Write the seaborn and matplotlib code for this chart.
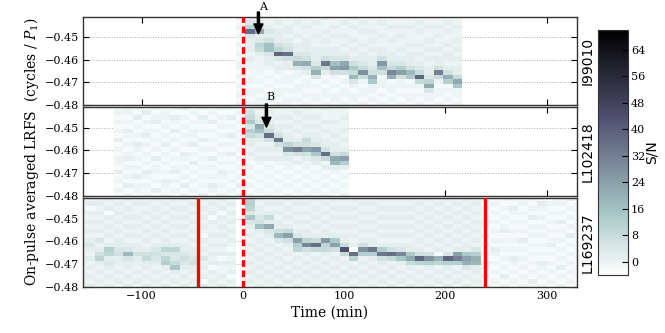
import numpy as np
import matplotlib
matplotlib.use("Agg")
import matplotlib.pyplot as plt
import seaborn as sns

# ---------------- data ----------------
# time bins (min): left edge of first bin and bin width; frequency rows (cycles/P1)
BIN_START = -164.9
BIN_WIDTH = 9.3
N_BINS = 54
FREQ_TOP = -0.4405
FREQ_STEP = 0.002
N_ROWS = 20

# S/N maps: one string per time bin, rows from low (bottom) to high (top) frequency.
# each character = (S/N + 4) / 2 as a base-36 digit; '.' = no data
CODE = "0123456789ABCDEFGHIJKLMNOPQRSTUVWXYZ"

obs_names = ["I99010", "L102418", "L169237"]

I99010_first_bin = -1
I99010_cols = [
    "21212121221212121212", "2122122122323334K743", "2212121222236743D432",
    "122121212334AA534322", "21221212324L75333232", "22121221335K54323322",
    "121221224C6433232232", "212122135D5433322322", "1221214C843332232232",
    "212212136J5332323223", "12212125EA4332232322", "21221215FD4323232232",
    "122124B6953232322323", "2122126G643323223232", "121229C5433232323222",
    "21212215AF5332232232", "121221CH643322322322", "2121225E843232232322",
    "1221219B533323222322", "212126L6432323223232", "1224D743323232322322",
    "2122126I533232232322", "121218C5323323223232", "21229D63323232322322",
]

L102418_first_bin = -14
L102418_cols = [
    "12121312212131212121", "21312121321212312122", "12213121212312121312",
    "21212312121213212131", "13121221312121213212", "21231212121312121221",
    "12121321212121312312", "21312121231212121213", "12121213121312212121",
    "31212121212131212312", "12312121312121213121", "21212312121212121212",
    "12121212131213121312", "21312121212121212121",
    "21212121232336849653", "12121212323235AD4323", "2121212132325K643232",
    "121212123235J5332322", "2121212234G733232322", "1212121325I532323232",
    "2121212235E563232322", "1212121349F433232322", "212121326K5332323223",
    "1212123BD53323223222", "21212138E63232322322",
]

L169237_first_bin = -18
L169237_cols = [
    "23231323243232312323", "32323232343232323132", "23232375324232323232",
    "32323437832323231323", "23232335433232323232", "3232334B432323232323",
    "23232335332323232232", "32323365323232323232", "23232345432323232323",
    "32323874733232323232", "23239644732323232323", "32323454332323232323",
    "23233543323232323232", "31323242323123232323", "23231323232322313232",
    "32322313232323231323", "23132323123232323231", "....................",
    "23232323232323494787", "3232323232323A543323", "2323232323234D363232",
    "32323232324B53323232", "23232323235E63232323", "3232323278E432323232",
    "232323235H7332323232", "323232326K6323232323", "2323232367F332323232",
    "323232325E9323232323", "23232326O63323232323", "3232327K032323232323",
    "23232328G53232323232", "32323238J33232323232", "2323235J832323232323",
    "3232326K532323232323", "2323239H432323232323", "323236D9332323232323",
    "232327L5323232323232", "323238G5232323232323", "232327C1323232323232",
    "323238L4232323232323", "232328IE323232323232", "32324CE9332323232323",
    "23233BC8423232323232",
    "21212312121212321212", "12121212312121212121", "21312121212132121212",
    "12121231212121212312", "21212121213121212121", "13121212121212131212",
    "21212312121212121231", "12121212132121212121", "21213121212121312121",
    "12121212121312121213", "21212121212121212121",
]

# events (min)
transition_time = 0.0
L169237_boundaries = [-44.4, 238.9]
arrow_labels = ["A", "B"]
arrow_times = [15.3, 23.2]
arrow_freqs = [-0.4484, -0.4498]

x_ticks = [-100, 0, 100, 200, 300]
y_ticks = [-0.45, -0.46, -0.47, -0.48]
cbar_ticks = [0, 8, 16, 24, 32, 40, 48, 56, 64]
T_MIN, T_MAX = -158.0, 330.0
F_MIN, F_MAX = -0.48, -0.4410


def build(first_bin, cols):
    mat = np.full((N_ROWS, N_BINS), np.nan)
    for n, s in enumerate(cols):
        if len(s) != N_ROWS:
            raise ValueError(f"bad column {n}: {s} ({len(s)})")
        i = first_bin + 18 + n
        for r, ch in enumerate(s):
            if ch != ".":
                mat[N_ROWS - 1 - r, i] = 2 * CODE.index(ch) - 4
    return mat


maps = [build(I99010_first_bin, I99010_cols),
        build(L102418_first_bin, L102418_cols),
        build(L169237_first_bin, L169237_cols)]


def tx(t):
    return (t - BIN_START) / BIN_WIDTH


def fy(f):
    return (FREQ_TOP - f) / FREQ_STEP


# ---------------- figure ----------------
plt.rcParams["font.family"] = "serif"
plt.rcParams["font.serif"] = ["DejaVu Serif"]
plt.rcParams["mathtext.fontset"] = "dejavuserif"

fig = plt.figure(figsize=(6.65, 3.33), dpi=100)
W, H = 665.0, 333.0
left, right = 83 / W, 577 / W
panel_px = [(17, 105), (107, 196), (198, 287)]
axes = []
for top, bot in panel_px:
    axes.append(fig.add_axes([left, 1 - bot / H, right - left, (bot - top) / H]))
cax = fig.add_axes([598 / W, 1 - 275 / H, 30 / W, 245 / H])

for idx, (ax, mat) in enumerate(zip(axes, maps)):
    last = idx == 2
    sns.heatmap(mat, ax=ax, cmap="bone_r", vmin=-4, vmax=70,
                cbar=last, cbar_ax=cax if last else None,
                cbar_kws={"ticks": cbar_ticks} if last else None,
                xticklabels=False, yticklabels=False)
    for s in ax.spines.values():
        s.set_visible(True)
        s.set_color("#333333")
        s.set_linewidth(1.0)
    ax.set_xlim(tx(T_MIN), tx(T_MAX))
    ax.set_ylim(fy(F_MIN), fy(F_MAX))
    ax.set_xticks([tx(t) for t in x_ticks])
    ax.set_xticklabels([str(t).replace("-", "\u2212") for t in x_ticks] if last else [])
    ax.set_yticks([fy(f) for f in y_ticks])
    ax.set_yticklabels([f"{f:.2f}".replace("-", "\u2212") for f in y_ticks], rotation=0)
    ax.tick_params(direction="in", top=True, right=True, length=4, width=0.8,
                   labelsize=8, colors="black", pad=3)
    ax.grid(axis="y", linestyle=":", color="#aaaaaa", linewidth=0.7)
    ax.set_axisbelow(True)
    ax.set_xlabel("")
    ax.set_ylabel("")
    ax.axvline(tx(transition_time), color="red", linewidth=2.4,
               linestyle=(0, (2.0, 1.1)), zorder=5)
    ax.text(1.022, 0.5, obs_names[idx], transform=ax.transAxes, rotation=90,
            ha="center", va="center", fontsize=10, family="DejaVu Sans")

for t in L169237_boundaries:
    axes[2].axvline(tx(t), color="red", linewidth=2.4, zorder=5)

# arrows A and B
arrow_px = [(12, 6.5, 17), (104, 97.5, 107)]  # tail, text, panel top (pixels)
for k, (lab, t, f) in enumerate(zip(arrow_labels, arrow_times, arrow_freqs)):
    ax = axes[k]
    tail_px, text_px, top_px = arrow_px[k]
    ppx = (panel_px[k][1] - panel_px[k][0]) / (fy(F_MIN) - fy(F_MAX))
    y_tail = fy(F_MAX) + (tail_px - top_px) / ppx
    y_text = fy(F_MAX) + (text_px - top_px) / ppx
    ax.annotate("", xy=(tx(t), fy(f)), xytext=(tx(t), y_tail),
                arrowprops=dict(facecolor="black", edgecolor="black", width=1.5,
                                headwidth=6.5, headlength=7, shrink=0),
                annotation_clip=False, zorder=6)
    ax.text(tx(t) + 0.45, y_text, lab, ha="center", va="center", fontsize=8,
            clip_on=False, zorder=6)

cbar = axes[2].collections[0].colorbar
cbar.outline.set_linewidth(0.8)
cbar.outline.set_edgecolor("#333333")
cbar.ax.tick_params(direction="in", length=4, width=0.8, labelsize=8, colors="black", pad=2)
cbar.set_label("S/N", fontsize=10, family="DejaVu Sans", labelpad=0)

fig.text(0.047, 0.545, "On-pulse averaged LRFS  (cycles / $P_1$)", rotation=90,
         ha="center", va="center", fontsize=10)
fig.text((left + right) / 2, 0.06, "Time (min)", ha="center", va="center", fontsize=10)

fig.savefig("out.png", dpi=100, facecolor="white")
